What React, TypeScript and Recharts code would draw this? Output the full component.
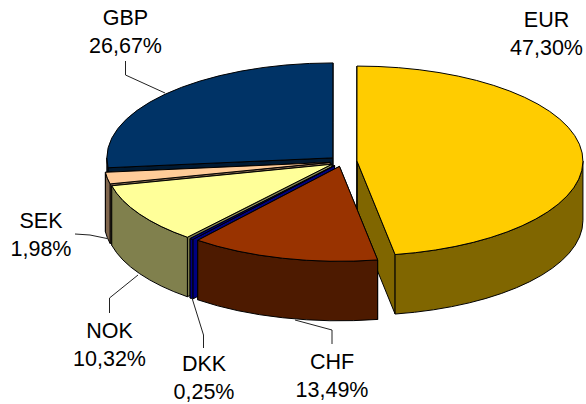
import { PieChart, Pie } from 'recharts';

// drawn back to front: Recharts paints sectors in data order
const currencies = ['EUR', 'GBP', 'SEK', 'NOK', 'DKK', 'CHF'];
const shares = [47.3, 26.67, 1.98, 10.32, 0.25, 13.49];

const TILT = 0.42; // ellipse ratio of the 3D view
const DEPTH = 59.5;
const RADIUS = 226;
const FONT = '"Liberation Sans", Arial, sans-serif';
const FONT_SIZE = 21.5;

const TOP_COLORS: Record<string, string> = {
  EUR: '#FFCC00',
  GBP: '#003366',
  SEK: '#FFCC99',
  NOK: '#FFFF99',
  DKK: '#000080',
  CHF: '#993300',
};
const SIDE_COLORS: Record<string, string> = {
  EUR: '#806600',
  GBP: '#001A33',
  SEK: '#80664D',
  NOK: '#80804D',
  DKK: '#000080',
  CHF: '#4D1A00',
};
const EXPLODE: Record<string, number> = {
  EUR: 14.5,
  GBP: 13,
  SEK: 12.5,
  NOK: 12.5,
  DKK: 12.5,
  CHF: 12,
};

// label anchor and leader line, hand placed like the original
const LABELS: Record<string, { x: number; y: number; line: string }> = {
  EUR: { x: 546.5, y: 27, line: '' },
  GBP: { x: 125.5, y: 25, line: '125.5,61 125.5,75 165,93' },
  SEK: { x: 41, y: 228, line: '75,234 90,235 107,238.5' },
  NOK: { x: 109.5, y: 337.5, line: '138,275 109.5,298 109.5,313' },
  DKK: { x: 204, y: 371, line: '192,298 203.5,335 203.5,348' },
  CHF: { x: 332, y: 369, line: '295,320 332,330 332,344' },
};

const chartData = currencies.map((name, i) => ({ name, value: shares[i] }));

// keeps the side wall on the front half of the ellipse (180..360 in chart degrees)
function frontRange(a: number, b: number): [number, number] | null {
  for (const shift of [0, 360, -360]) {
    const lo = Math.max(a + shift, 180);
    const hi = Math.min(b + shift, 360);
    if (hi > lo) return [lo, hi];
  }
  return null;
}

function Slice3D(props: any) {
  const { cx, cy, startAngle, endAngle, outerRadius } = props;
  const name = props.name ?? props.payload?.name;
  const ry = outerRadius * TILT;
  const mid = ((startAngle + endAngle) / 2) * (Math.PI / 180);
  const ox = cx + EXPLODE[name] * Math.cos(mid);
  const oy = cy - EXPLODE[name] * TILT * Math.sin(mid);
  const pt = (deg: number, drop = 0) => {
    const r = (deg * Math.PI) / 180;
    return `${ox + outerRadius * Math.cos(r)} ${oy - ry * Math.sin(r) + drop}`;
  };
  const large = endAngle - startAngle > 180 ? 1 : 0;
  const wall = (deg: number) =>
    `M${ox} ${oy}L${pt(deg)}L${pt(deg, DEPTH)}L${ox} ${oy + DEPTH}Z`;
  const front = frontRange(startAngle, endAngle);
  const common = { stroke: '#000', strokeWidth: 1, strokeLinejoin: 'round' as const };

  return (
    <g>
      <path d={wall(startAngle)} fill={SIDE_COLORS[name]} {...common} />
      <path d={wall(endAngle)} fill={SIDE_COLORS[name]} {...common} />
      {front && (
        <path
          d={`M${pt(front[0])}A${outerRadius} ${ry} 0 0 0 ${pt(front[1])}L${pt(front[1], DEPTH)}A${outerRadius} ${ry} 0 0 1 ${pt(front[0], DEPTH)}Z`}
          fill={SIDE_COLORS[name]}
          {...common}
        />
      )}
      <path
        d={`M${ox} ${oy}L${pt(startAngle)}A${outerRadius} ${ry} 0 ${large} 0 ${pt(endAngle)}Z`}
        fill={TOP_COLORS[name]}
        {...common}
      />
    </g>
  );
}

function renderLabel(props: any) {
  const name = props.name ?? props.payload?.name;
  const value = props.value ?? props.payload?.value;
  const spot = LABELS[name];
  return (
    <g key={name}>
      {spot.line && <polyline points={spot.line} fill="none" stroke="#222" strokeWidth={1} />}
      <text x={spot.x} y={spot.y} textAnchor="middle" fontFamily={FONT} fontSize={FONT_SIZE} fill="#000">
        {name}
      </text>
      <text x={spot.x} y={spot.y + 28} textAnchor="middle" fontFamily={FONT} fontSize={FONT_SIZE} fill="#000">
        {value.toFixed(2).replace('.', ',')}%
      </text>
    </g>
  );
}

export default function App() {
  // EUR ends at 12 o'clock going counter clockwise, so CHF comes out on top of it
  const startAngle = 90 - (shares[0] / 100) * 360;
  return (
    <div style={{ position: 'absolute', left: 0, top: 0 }}>
      <PieChart width={586} height={404} margin={{ top: 0, right: 0, bottom: 0, left: 0 }}>
        <Pie
          data={chartData}
          dataKey="value"
          nameKey="name"
          cx={342.5}
          cy={161.5}
          outerRadius={RADIUS}
          startAngle={startAngle}
          endAngle={startAngle + 360}
          shape={Slice3D}
          label={renderLabel}
          labelLine={false}
          isAnimationActive={false}
        />
      </PieChart>
    </div>
  );
}
